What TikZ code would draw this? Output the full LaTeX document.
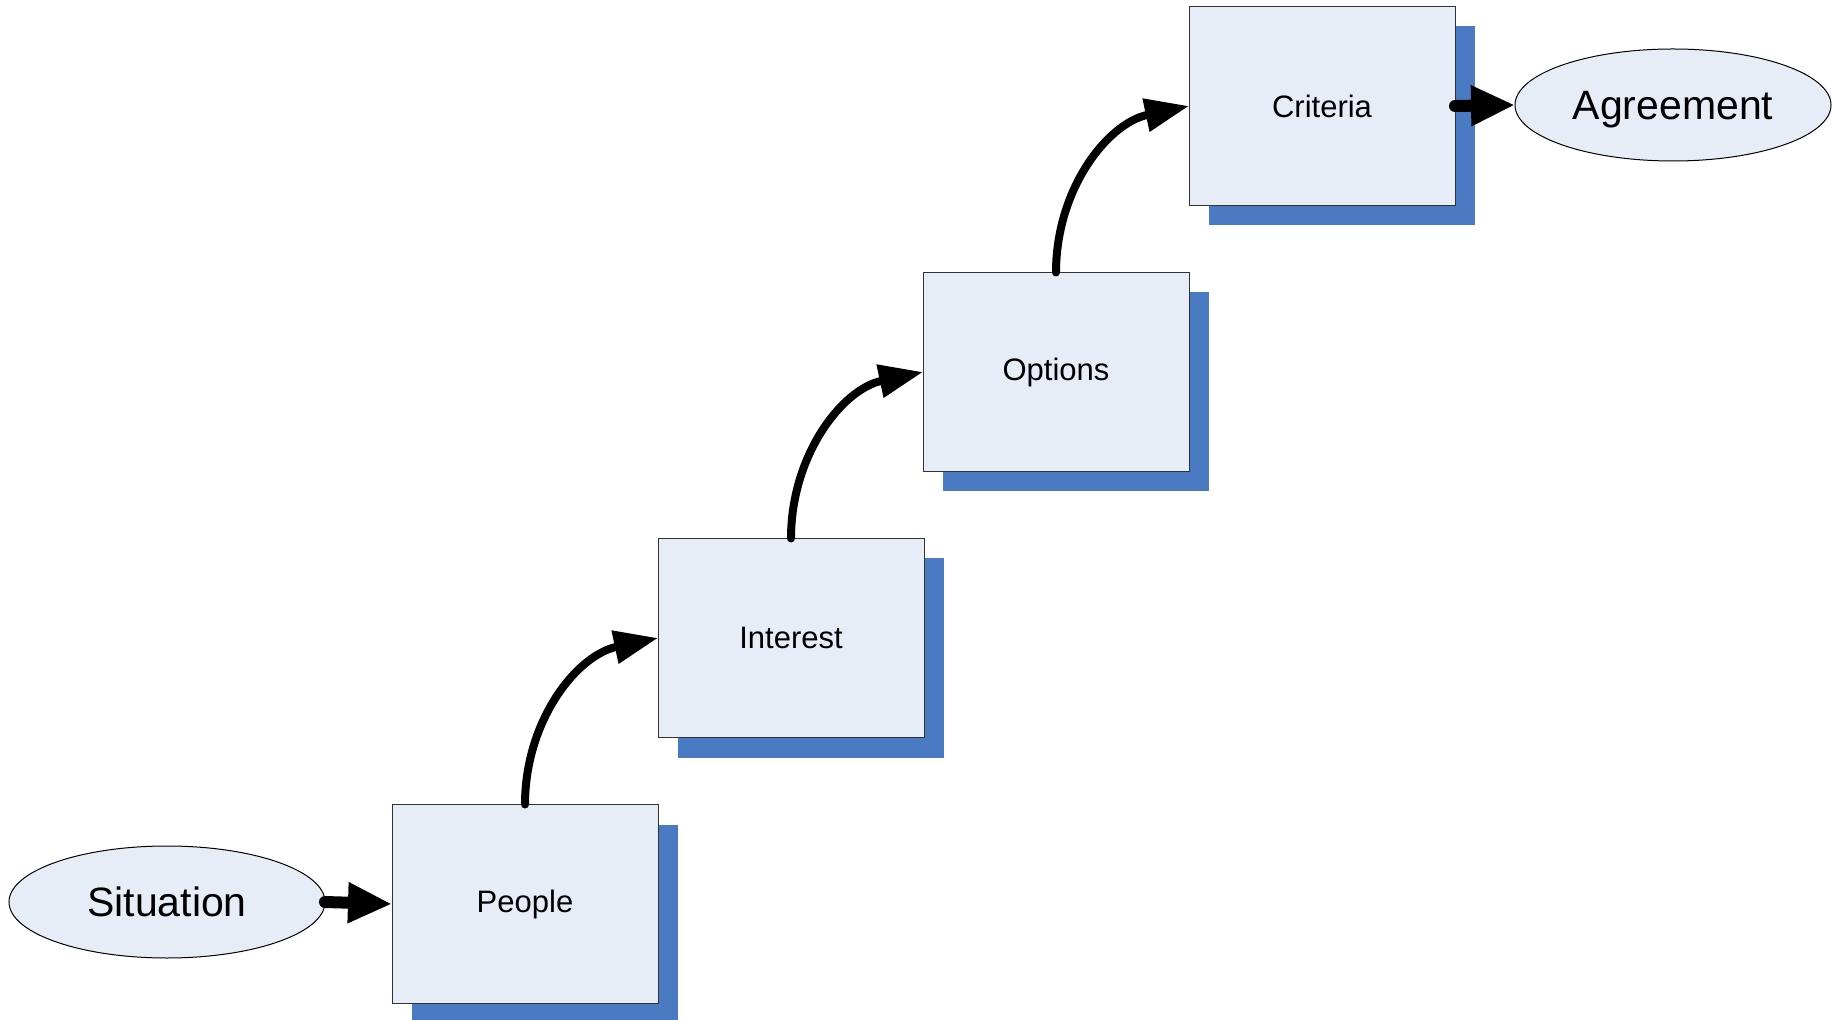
\documentclass[tikz,border=0pt]{standalone}
\usepackage{fontspec}
\setmainfont{Liberation Sans}
\usetikzlibrary{shapes.geometric, shadows, arrows.meta}

\definecolor{boxfill}{HTML}{E7EDF7}
\definecolor{shadowblue}{HTML}{4A7AC1}

\begin{document}
\begin{tikzpicture}[x=0.5pt, y=-0.5pt,
    stepbox/.style={draw=black!80, line width=0.5pt, fill=boxfill, minimum width=133pt, minimum height=99.5pt,
        inner sep=0pt, outer sep=0pt, font=\fontsize{15.5}{18}\selectfont,
        drop shadow={shadow xshift=10pt, shadow yshift=-10pt, fill=shadowblue, opacity=1}},
    endpoint/.style={ellipse, draw=black, line width=0.5pt, fill=boxfill, minimum width=158pt, minimum height=56pt,
        inner sep=0pt, outer sep=0pt, text depth=0pt, font=\fontsize{20.5}{24}\selectfont},
    climb/.style={line width=4pt, line cap=round, -{Triangle[length=22pt, width=16pt]}},
    push/.style={line width=6pt, line cap=round, -{Triangle[length=22pt, width=19pt]}}]
    \useasboundingbox (0, 0) rectangle (1835, 1020);

    % the ends
    \node[endpoint] (situation) at (167, 902) {Situation};
    \node[endpoint] (agreement) at (1673, 105) {Agreement};

    % the four steps
    \node[stepbox] (people) at (525, 904) {People};
    \node[stepbox] (interest) at (791, 638) {Interest};
    \node[stepbox] (options) at (1056, 372) {Options};
    \node[stepbox] (criteria) at (1322, 106) {Criteria};

    % connectors
    \draw[push] (situation.east) -- (people.west);
    \draw[climb] (people.north) to[out=90, in=192] (interest.west);
    \draw[climb] (interest.north) to[out=90, in=192] (options.west);
    \draw[climb] (options.north) to[out=90, in=192] (criteria.west);
    \draw[push] (criteria.east) -- (agreement.west);
\end{tikzpicture}
\end{document}
